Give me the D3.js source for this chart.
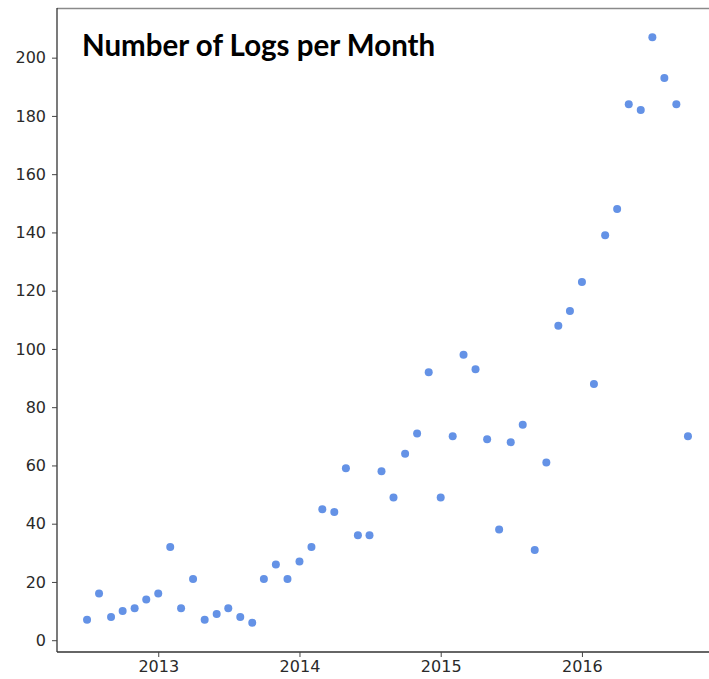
<!DOCTYPE html>
<html>
<head>
<meta charset="utf-8">
<script src="https://cdn.jsdelivr.net/npm/d3@7"></script>
<style>
  body { margin: 0; background: #fff; }
  svg { display: block; }
</style>
</head>
<body>
<svg class="logChart" width="709" height="679"></svg>
<script>
// Monthly log counts, July 2012 .. October 2016
const months = [
    "2012-07", "2012-08", "2012-09", "2012-10", "2012-11", "2012-12",
    "2013-01", "2013-02", "2013-03", "2013-04", "2013-05", "2013-06",
    "2013-07", "2013-08", "2013-09", "2013-10", "2013-11", "2013-12",
    "2014-01", "2014-02", "2014-03", "2014-04", "2014-05", "2014-06",
    "2014-07", "2014-08", "2014-09", "2014-10", "2014-11", "2014-12",
    "2015-01", "2015-02", "2015-03", "2015-04", "2015-05", "2015-06",
    "2015-07", "2015-08", "2015-09", "2015-10", "2015-11", "2015-12",
    "2016-01", "2016-02", "2016-03", "2016-04", "2016-05", "2016-06",
    "2016-07", "2016-08", "2016-09", "2016-10"
];
const logCounts = [
    7, 16, 8, 10, 11, 14,
    16, 32, 11, 21, 7, 9,
    11, 8, 6, 21, 26, 21,
    27, 32, 45, 44, 59, 36,
    36, 58, 49, 64, 71, 92,
    49, 70, 98, 93, 69, 38,
    68, 74, 31, 61, 108, 113,
    123, 88, 139, 148, 184, 182,
    207, 193, 184, 70
];
const yTicks = [0, 20, 40, 60, 80, 100, 120, 140, 160, 180, 200];
const xTickYears = ["2013", "2014", "2015", "2016"];
const title = "Number of Logs per Month";

function logChart() {
    const svg = d3.select(".logChart");
    const width = +svg.attr("width");

    const left = 57, top = 8, bottom = 652;
    const right = 718; // plot box runs past the crop on the right

    const parseMonth = d3.timeParse("%Y-%m");
    const data = months.map((m, i) => ({ date: parseMonth(m), value: logCounts[i] }));

    // matplotlib-like 5% margins around the data
    const xExt = d3.extent(data, d => d.date.getTime());
    const xPad = (xExt[1] - xExt[0]) * 0.05;
    const x = d3.scaleTime()
        .domain([new Date(xExt[0] - xPad), new Date(xExt[1] + xPad)])
        .range([left, right]);

    const yExt = d3.extent(data, d => d.value);
    const yPad = (yExt[1] - yExt[0]) * 0.05;
    const y = d3.scaleLinear()
        .domain([yExt[0] - yPad, yExt[1] + yPad])
        .range([bottom, top]);

    // frame: grey top, dark left / bottom
    svg.append("line")
        .attr("x1", left).attr("x2", width)
        .attr("y1", top + 0.5).attr("y2", top + 0.5)
        .attr("stroke", "#8a8a8a").attr("stroke-width", 1.5);

    const yAxis = svg.append("g")
        .attr("transform", `translate(${left},0)`)
        .call(d3.axisLeft(y).tickValues(yTicks).tickSize(5).tickPadding(6));
    yAxis.select(".domain").attr("d", `M0,${top}V${bottom}`);

    const xAxis = svg.append("g")
        .attr("transform", `translate(0,${bottom})`)
        .call(d3.axisBottom(x)
            .tickValues(xTickYears.map(d => d3.timeParse("%Y")(d)))
            .tickFormat(d3.timeFormat("%Y"))
            .tickSize(5).tickPadding(4));
    xAxis.select(".domain").attr("d", `M${left},0H${width}`);

    svg.selectAll(".domain")
        .attr("stroke", "#333").attr("stroke-width", 1.3);
    svg.selectAll(".tick line").attr("stroke", "#444");
    svg.selectAll(".tick text")
        .attr("fill", "#2a2a2a")
        .style("font-family", "DejaVu Sans, sans-serif")
        .style("font-size", "16px");

    // points
    svg.selectAll(".dot")
        .data(data)
        .enter().append("circle")
        .attr("class", "dot")
        .attr("cx", d => x(d.date))
        .attr("cy", d => y(d.value))
        .attr("r", 4)
        .attr("fill", "#6492e6");

    svg.append("text")
        .attr("x", 82)
        .attr("y", 56)
        .style("font-family", "Lato, sans-serif")
        .style("font-weight", "bold")
        .style("font-size", "29.5px")
        .attr("fill", "#000")
        .text(title);
}

logChart();
</script>
</body>
</html>
